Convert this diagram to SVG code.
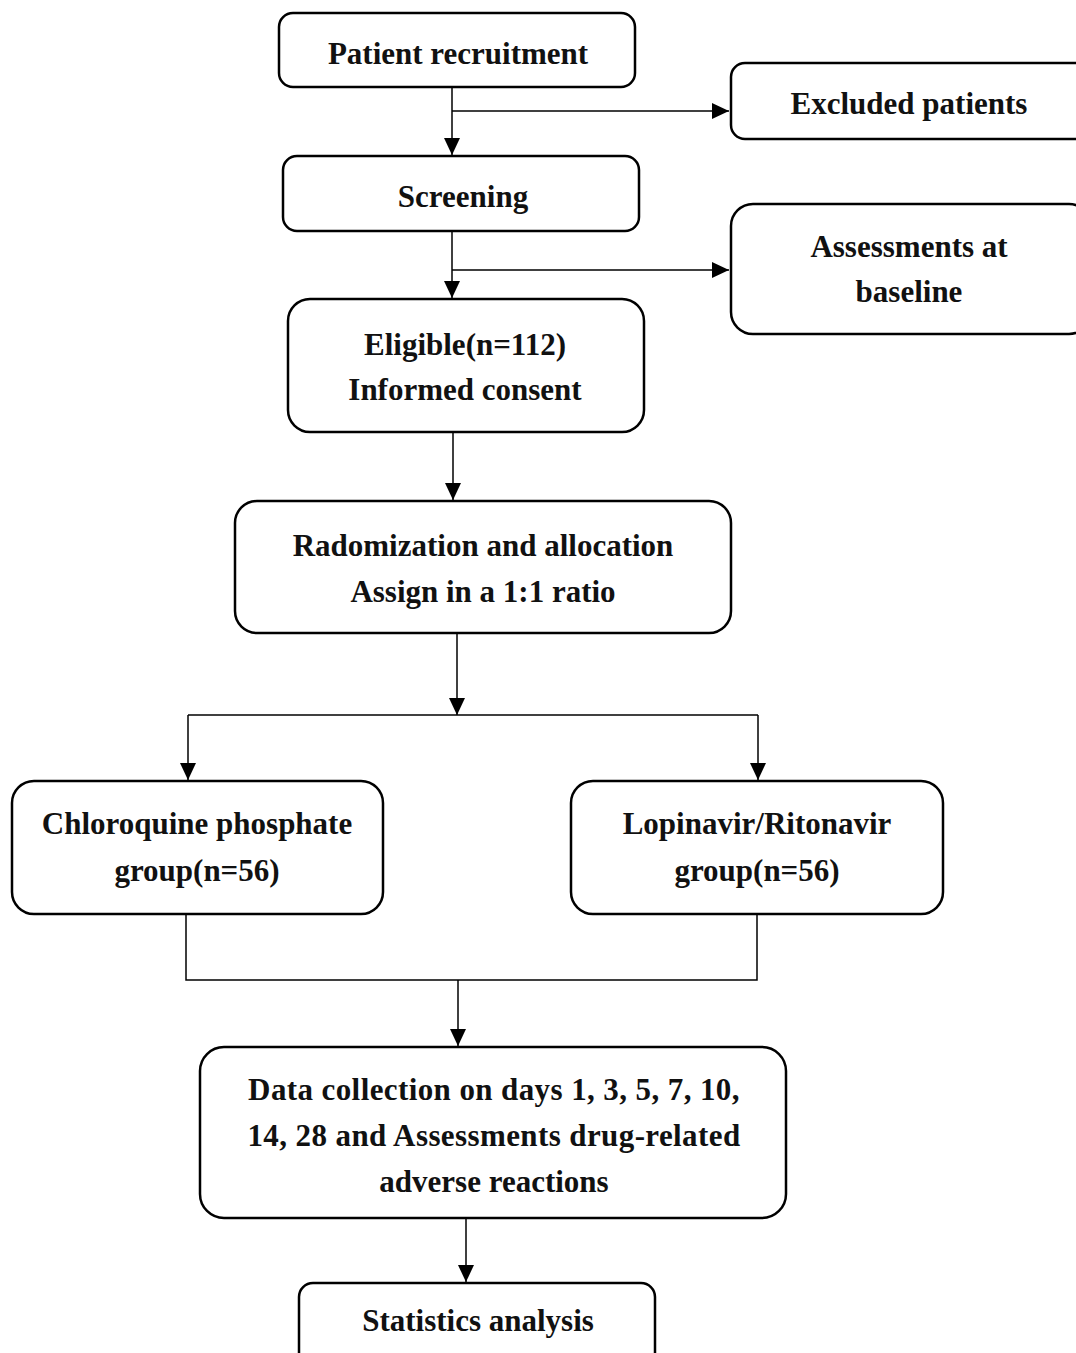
<svg xmlns="http://www.w3.org/2000/svg" width="1076" height="1353" viewBox="0 0 1076 1353">
<style>
.box{fill:#fff;stroke:#000;stroke-width:2.5}
.t{font-family:"Liberation Serif","Times New Roman",serif;font-weight:bold;font-size:31px;text-anchor:middle;fill:#111}
.c{fill:none;stroke:#000;stroke-width:1.5}
</style>
<defs>
<marker id="ah" markerUnits="userSpaceOnUse" markerWidth="18" markerHeight="18" viewBox="0 0 18 16" refX="17" refY="8" orient="auto">
<path d="M0 0 L17 8 L0 16 Z" fill="#000"/>
</marker>
</defs>
<rect width="1076" height="1353" fill="#fff"/>
<g id="connectors">
<path class="c" d="M452 87 V155" marker-end="url(#ah)"/>
<path class="c" d="M452 111 H729" marker-end="url(#ah)"/>
<path class="c" d="M452 231 V298" marker-end="url(#ah)"/>
<path class="c" d="M452 270 H729" marker-end="url(#ah)"/>
<path class="c" d="M453 432 V500" marker-end="url(#ah)"/>
<path class="c" d="M457 633 V715" marker-end="url(#ah)"/>
<path class="c" d="M188 715 H758"/>
<path class="c" d="M188 715 V780" marker-end="url(#ah)"/>
<path class="c" d="M758 715 V780" marker-end="url(#ah)"/>
<path class="c" d="M186 914 V980 H757 V914"/>
<path class="c" d="M458 980 V1046" marker-end="url(#ah)"/>
<path class="c" d="M466 1218 V1282" marker-end="url(#ah)"/>
</g>
<g id="n1"><rect class="box" x="279" y="13" width="356" height="74" rx="14"/><text class="t" x="458" y="64">Patient recruitment</text></g>
<g id="n2"><rect class="box" x="731" y="63" width="360" height="76" rx="14"/><text class="t" x="909" y="114">Excluded patients</text></g>
<g id="n3"><rect class="box" x="283" y="156" width="356" height="75" rx="14"/><text class="t" x="463" y="207">Screening</text></g>
<g id="n4"><rect class="box" x="731" y="204" width="360" height="130" rx="22"/><text class="t" x="909" y="257">Assessments at</text><text class="t" x="909" y="302">baseline</text></g>
<g id="n5"><rect class="box" x="288" y="299" width="356" height="133" rx="22"/><text class="t" x="465" y="355">Eligible(n=112)</text><text class="t" x="465" y="400">Informed consent</text></g>
<g id="n6"><rect class="box" x="235" y="501" width="496" height="132" rx="22"/><text class="t" x="483" y="556">Radomization and allocation</text><text class="t" x="483" y="602">Assign in a 1:1 ratio</text></g>
<g id="n7"><rect class="box" x="12" y="781" width="371" height="133" rx="22"/><text class="t" x="197" y="834">Chloroquine phosphate</text><text class="t" x="197" y="881">group(n=56)</text></g>
<g id="n8"><rect class="box" x="571" y="781" width="372" height="133" rx="22"/><text class="t" x="757" y="834">Lopinavir/Ritonavir</text><text class="t" x="757" y="881">group(n=56)</text></g>
<g id="n9"><rect class="box" x="200" y="1047" width="586" height="171" rx="24"/><text class="t" x="494" y="1100" letter-spacing="0.4">Data collection on days 1, 3, 5, 7, 10,</text><text class="t" x="494" y="1146" letter-spacing="0.4">14, 28 and Assessments drug-related</text><text class="t" x="494" y="1192">adverse reactions</text></g>
<g id="n10"><rect class="box" x="299" y="1283" width="356" height="90" rx="14"/><text class="t" x="478" y="1331">Statistics analysis</text></g>
</svg>
